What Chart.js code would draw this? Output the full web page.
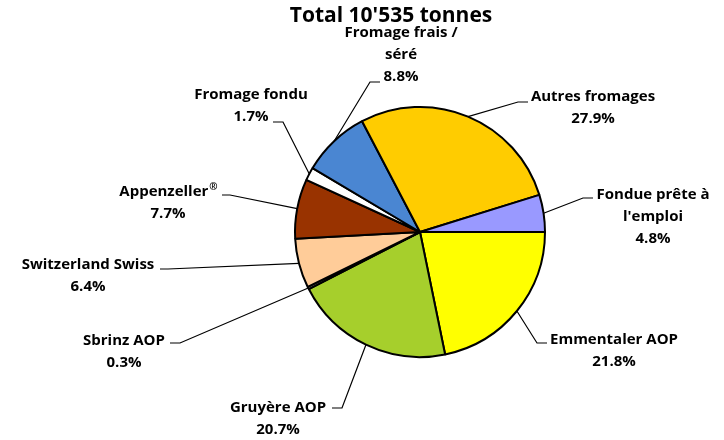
<!DOCTYPE html>
<html>
<head>
<meta charset="utf-8">
<script src="https://cdn.jsdelivr.net/npm/chart.js@4.4.1/dist/chart.umd.min.js"></script>
<style>
  body { margin: 0; background: #fff; }
  canvas { display: block; }
</style>
</head>
<body>
<canvas id="cheeseChart" width="724" height="440"></canvas>
<script>
// Swiss cheese production share (percent of 10'535 tonnes)
const categories = [
    'Emmentaler AOP',
    'Gruyère AOP',
    'Sbrinz AOP',
    'Switzerland Swiss',
    'Appenzeller®',
    'Fromage fondu',
    ['Fromage frais /', 'séré'],
    'Autres fromages',
    ['Fondue prête à', "l'emploi"]
];
const shares = [21.8, 20.7, 0.3, 6.4, 7.7, 1.7, 8.8, 27.9, 4.8];
const chartTitle = "Total 10'535 tonnes";

const sliceColors = [
    '#FFFF00', // Emmentaler
    '#A6CF2C', // Gruyère
    '#7F7F7F', // Sbrinz
    '#FFCC99', // Switzerland Swiss
    '#993300', // Appenzeller
    '#FFFFFF', // Fromage fondu
    '#4A86D2', // Fromage frais
    '#FFCC00', // Autres
    '#9999FF'  // Fondue
];

// where each label sits: text centre (first line), then the leader elbow and the end of its short flat piece
const labelLayout = [
    { tx: 614, ty: 340, ex: 537, ey: 343, hx: 547 },
    { tx: 278, ty: 408, ex: 342, ey: 408, hx: 332 },
    { tx: 124, ty: 341, ex: 180, ey: 343, hx: 170 },
    { tx: 88,  ty: 265, ex: 168, ey: 269, hx: 160 },
    { tx: 168, ty: 192, ex: 230, ey: 195, hx: 222 },
    { tx: 251, ty: 95,  ex: 283, ey: 122, hx: 273 },
    { tx: 401, ty: 33,  ex: 370, ey: 82,  hx: 380 },
    { tx: 593, ty: 97,  ex: 518, ey: 102, hx: 528 },
    { tx: 653, ty: 195, ex: 583, ey: 198, hx: 593 }
];

const FONT = '"Open Sans", "Lato", sans-serif';

// draws a line of text, with ® set small and raised
function drawLabelLine(ctx, text, cx, cy) {
    const idx = text.indexOf('®');
    if (idx < 0) {
        ctx.textAlign = 'center';
        ctx.fillText(text, cx, cy);
        return;
    }
    const main = text.slice(0, idx);
    const big = 'bold 15px ' + FONT, small = 'bold 10px ' + FONT;
    ctx.font = big;
    const w1 = ctx.measureText(main).width;
    ctx.font = small;
    const w2 = ctx.measureText('®').width;
    const x0 = cx - (w1 + w2) / 2;
    ctx.textAlign = 'left';
    ctx.font = big;
    ctx.fillText(main, x0, cy);
    ctx.font = small;
    ctx.fillText('®', x0 + w1 + 1, cy - 5);
    ctx.font = big;
}

const outsideLabels = {
    id: 'outsideLabels',
    afterDraw(chart) {
        const ctx = chart.ctx;
        const meta = chart.getDatasetMeta(0);
        ctx.save();

        // title
        ctx.fillStyle = '#000';
        ctx.font = 'bold 21px ' + FONT;
        ctx.textAlign = 'center';
        ctx.textBaseline = 'middle';
        ctx.fillText(chartTitle, 391, 16);

        meta.data.forEach((arc, i) => {
            const p = arc.getProps(['x', 'y', 'startAngle', 'endAngle', 'outerRadius'], true);
            const mid = (p.startAngle + p.endAngle) / 2;
            const px = p.x + Math.cos(mid) * p.outerRadius;
            const py = p.y + Math.sin(mid) * p.outerRadius;
            const l = labelLayout[i];

            ctx.strokeStyle = '#000';
            ctx.lineWidth = 1.2;
            ctx.beginPath();
            ctx.moveTo(px, py);
            ctx.lineTo(l.ex, l.ey);
            ctx.lineTo(l.hx, l.ey);
            ctx.stroke();

            const name = chart.data.labels[i];
            const lines = (Array.isArray(name) ? name.slice() : [name]);
            lines.push(shares[i].toFixed(1) + '%');
            ctx.font = 'bold 15px ' + FONT;
            ctx.fillStyle = '#000';
            ctx.textBaseline = 'middle';
            lines.forEach((t, k) => drawLabelLine(ctx, t, l.tx, l.ty + k * 22));
        });
        ctx.restore();
    }
};

new Chart(document.getElementById('cheeseChart'), {
    type: 'pie',
    data: {
        labels: categories,
        datasets: [{
            data: shares,
            backgroundColor: sliceColors,
            borderColor: '#000',
            borderWidth: 2
        }]
    },
    options: {
        responsive: false,
        animation: false,
        rotation: 90,
        layout: {
            padding: { left: 294, right: 178, top: 106, bottom: 82 }
        },
        plugins: {
            legend: { display: false },
            tooltip: { enabled: false },
            title: { display: false }
        }
    },
    plugins: [outsideLabels]
});
</script>
</body>
</html>
